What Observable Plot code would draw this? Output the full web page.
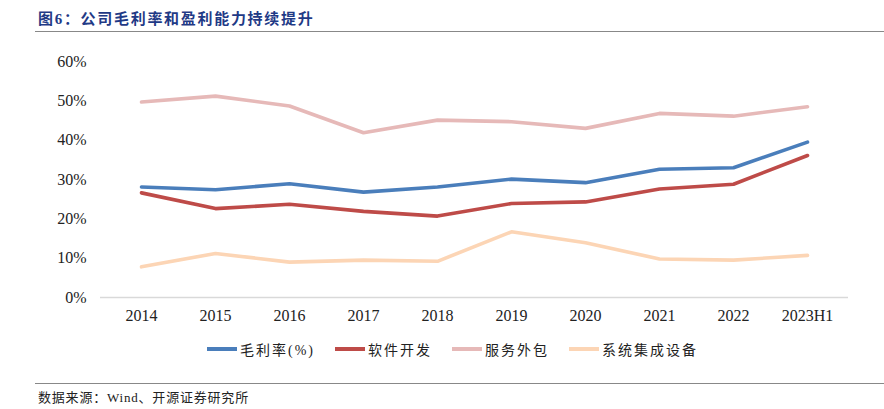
<!DOCTYPE html>
<html><head><meta charset="utf-8">
<script src="https://cdn.jsdelivr.net/npm/d3@7"></script>
<script src="https://cdn.jsdelivr.net/npm/@observablehq/plot@0.6"></script>
<style>
body{margin:0;background:#fff;width:884px;height:409px;position:relative;overflow:hidden;font-family:"Liberation Serif","Noto Sans CJK SC",serif;}
#title{position:absolute;left:38px;top:7px;font-family:"Liberation Serif","Noto Sans CJK SC";font-weight:bold;font-size:15px;color:#1F3A86;letter-spacing:1.7px;}
#rule1{position:absolute;left:35px;right:0;top:31px;height:0;border-top:1.5px solid #888;}
#chart{position:absolute;left:0;top:40px;}
#chart svg text{font-family:"Liberation Serif",serif !important;}
#legend{position:absolute;left:207px;top:339px;display:flex;font-size:14px;color:#222;font-family:"Liberation Serif","Noto Sans CJK SC";letter-spacing:2px;}
.item{display:flex;align-items:center;margin-right:20px;}
.sw{width:30px;height:4px;margin-right:3px;}
#rule2{position:absolute;left:35px;right:0;top:383px;border-top:1.5px solid #888;}
#source{position:absolute;left:38px;top:387px;font-size:13px;color:#222;font-family:"Liberation Serif","Noto Sans CJK SC";letter-spacing:0.8px;}
</style></head>
<body>
<div id="title">图6：公司毛利率和盈利能力持续提升</div>
<div id="rule1"></div>
<div id="chart"></div>
<div id="legend"></div>
<div id="rule2"></div>
<div id="source">数据来源：Wind、开源证券研究所</div>
<script>
const years = ["2014","2015","2016","2017","2018","2019","2020","2021","2022","2023H1"];
const seriesNames = ["毛利率(%)","软件开发","服务外包","系统集成设备"];
const colors = ["#4A7EBB","#BE4B48","#E6B9B8","#FCD5B5"];
const grossMargin = [28.1,27.4,28.9,26.8,28.1,30.1,29.2,32.6,33.0,39.5];
const software    = [26.6,22.6,23.7,21.9,20.7,23.9,24.3,27.6,28.8,36.1];
const outsourcing = [49.7,51.2,48.7,41.9,45.1,44.7,43.0,46.8,46.1,48.5];
const integration = [7.8,11.2,9.0,9.5,9.2,16.7,13.9,9.8,9.5,10.7];
const yTicks = [0,10,20,30,40,50,60];

const allSeries = [grossMargin, software, outsourcing, integration];
const data = [];
seriesNames.forEach((s,i)=>years.forEach((y,j)=>data.push({series:s, year:y, value:allSeries[i][j]})));

const chart = Plot.plot({
  width: 884, height: 291,
  marginLeft: 100, marginRight: 36, marginTop: 21, marginBottom: 34,
  style: {fontFamily: "'Liberation Serif', serif", fontSize: "16px", color: "#222", background: "transparent"},
  x: {type: "point", domain: years, padding: 0.5, label: null, tickSize: 0, tickPadding: 12},
  y: {domain: [0,60], ticks: yTicks, tickFormat: d => d + "%", label: null, tickSize: 0, tickPadding: 14},
  color: {domain: seriesNames, range: colors},
  marks: [
    Plot.ruleY([0], {stroke: "#d9d9d9", strokeWidth: 1.5}),
    Plot.lineY(data, {x: "year", y: "value", z: "series", stroke: "series", strokeWidth: 3.6, strokeLinejoin: "round", strokeLinecap: "round"})
  ]
});
document.getElementById("chart").appendChild(chart);

const leg = document.getElementById("legend");
seriesNames.forEach((s,i)=>{
  const it = document.createElement("div"); it.className="item";
  const sw = document.createElement("div"); sw.className="sw"; sw.style.background=colors[i];
  const t = document.createElement("span"); t.textContent=s;
  it.appendChild(sw); it.appendChild(t); leg.appendChild(it);
});
</script>
</body></html>
